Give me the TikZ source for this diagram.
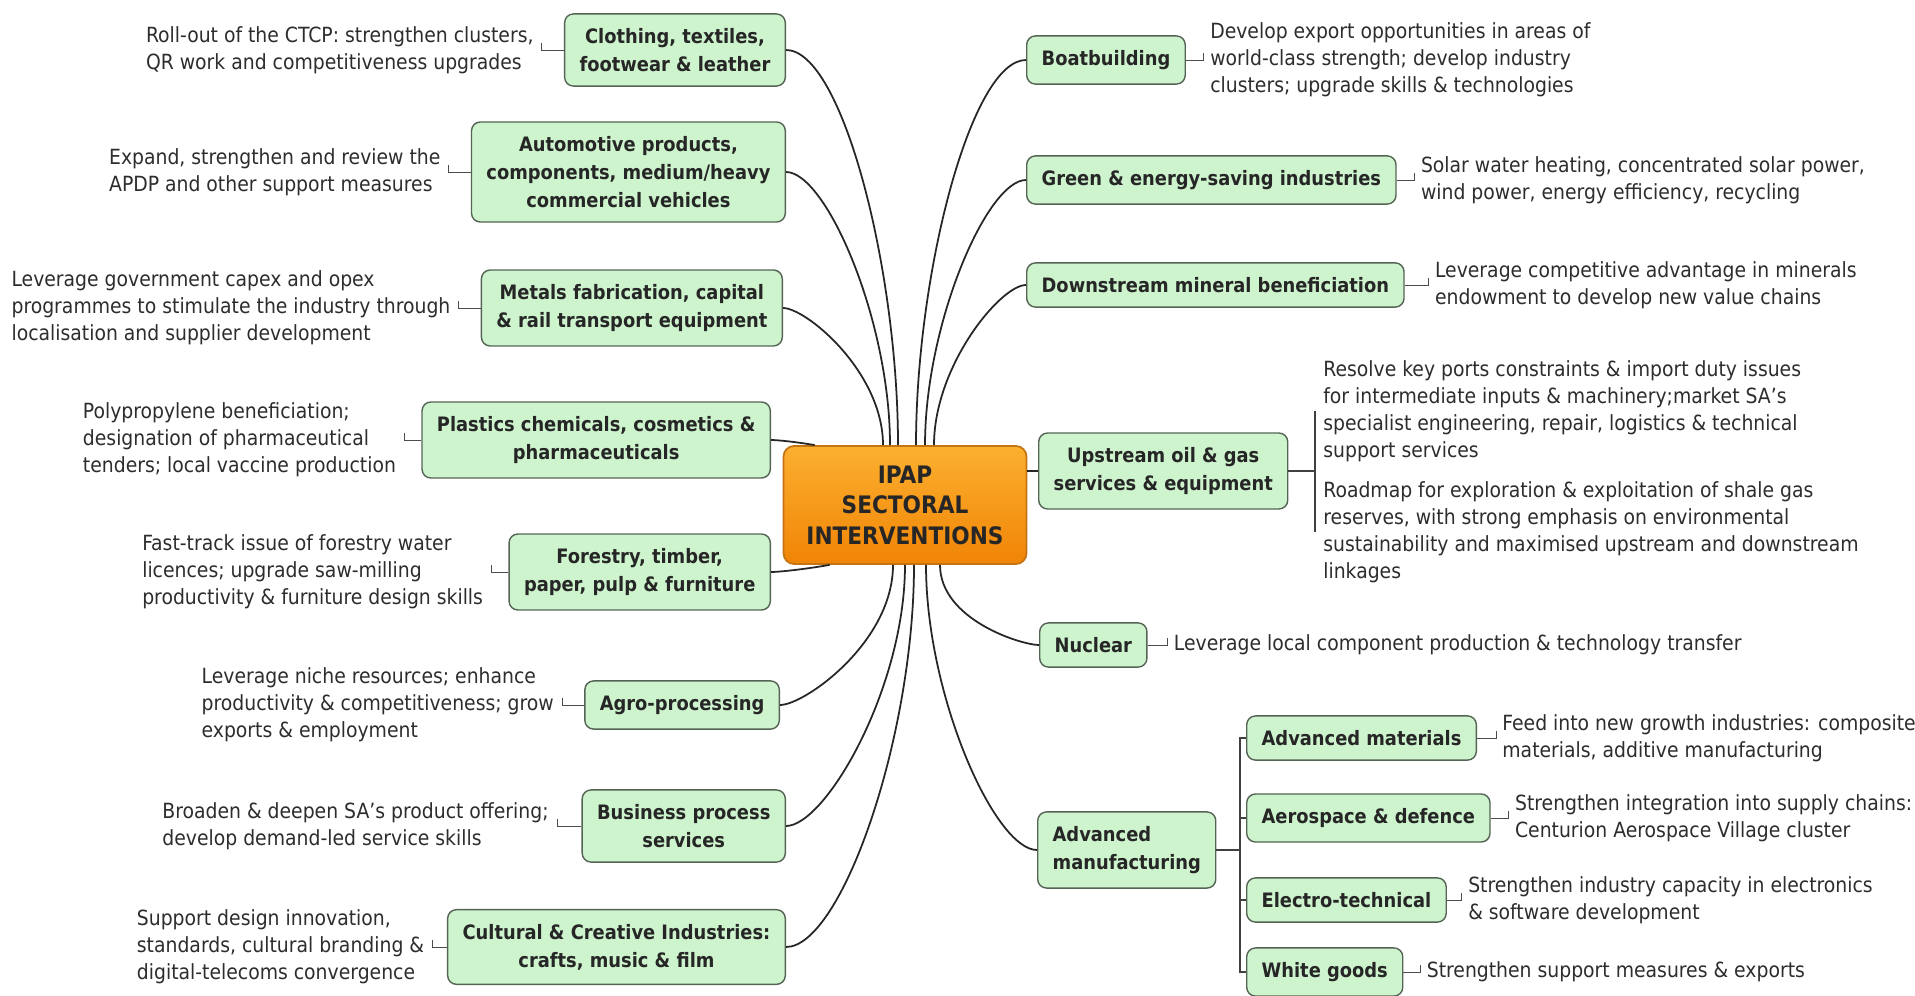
\documentclass[tikz,border=0pt]{standalone}
\usepackage{fontspec}
\setmainfont{DejaVu Sans Condensed}
\usetikzlibrary{positioning,calc}

\definecolor{leafgreen}{RGB}{206,244,206}
\definecolor{leafedge}{RGB}{85,100,85}
\definecolor{hubtop}{RGB}{252,176,48}
\definecolor{hubbot}{RGB}{240,132,6}
\definecolor{hubedge}{RGB}{196,116,18}
\definecolor{notegray}{RGB}{45,45,45}

\begin{document}
\begin{tikzpicture}[x=0.02cm, y=-0.02cm,
    sector/.style={rectangle, rounded corners=5pt, draw=leafedge, line width=0.8pt, fill=leafgreen, align=center, font=\fontsize{11.3}{15.9}\selectfont\bfseries, inner xsep=8.5pt, inner ysep=8.2pt, text=black!85},
    hub/.style={rectangle, rounded corners=6pt, draw=hubedge, line width=1pt, top color=hubtop, bottom color=hubbot, minimum width=4.86cm, minimum height=2.36cm, align=center, font=\fontsize{13.7}{17.4}\selectfont\bfseries, text=black!85},
    note/.style={align=left, font=\fontsize{11.9}{15.3}\selectfont, text=notegray, inner sep=0pt},
    branch/.style={line width=1pt, black!85, out looseness=1.1, in looseness=0.35},
    tick/.style={line width=0.5pt, black!70},
    bracket/.style={line width=0.7pt, black!75},
]

\useasboundingbox (0,0) rectangle (1915,996);
\fill[white] (0,0) rectangle (1915,996);

% Nodo centrale
\node[hub] (hub) at (905,505) {IPAP\\SECTORAL\\INTERVENTIONS};

% Settori a sinistra
\node[sector, anchor=east] (cloth) at (786,50) {Clothing, textiles,\\footwear \& leather};
\node[sector, anchor=east] (auto) at (786,172) {Automotive products,\\components, medium/heavy\\commercial vehicles};
\node[sector, anchor=east] (metal) at (783,308) {Metals fabrication, capital\\\& rail transport equipment};
\node[sector, anchor=east] (plast) at (771,440) {Plastics chemicals, cosmetics \&\\pharmaceuticals};
\node[sector, anchor=east] (forest) at (771,572) {Forestry, timber,\\paper, pulp \& furniture};
\node[sector, anchor=east] (agro) at (780,705) {Agro-processing};
\node[sector, anchor=east] (bps) at (786,826) {Business process\\services};
\node[sector, anchor=east] (culture) at (786,947) {Cultural \& Creative Industries:\\crafts, music \& film};

% Settori a destra
\node[sector, anchor=west] (boat) at (1026,60) {Boatbuilding};
\node[sector, anchor=west] (green) at (1026,180) {Green \& energy-saving industries};
\node[sector, anchor=west] (mineral) at (1026,285) {Downstream mineral beneficiation};
\node[sector, anchor=west] (oilgas) at (1038,471) {Upstream oil \& gas\\services \& equipment};
\node[sector, anchor=west] (nuclear) at (1039,645) {Nuclear};
\node[sector, anchor=west, align=left] (advman) at (1037,850) {Advanced\\manufacturing};
\node[sector, anchor=west] (advmat) at (1246,738) {Advanced materials};
\node[sector, anchor=west] (aero) at (1246,818) {Aerospace \& defence};
\node[sector, anchor=west] (electro) at (1246,900) {Electro-technical};
\node[sector, anchor=west] (white) at (1246,972) {White goods};

% Note a sinistra
\node[note, left=0.6cm of cloth] (ncloth)
    {Roll-out of the CTCP: strengthen clusters,\\QR work and competitiveness upgrades};
\node[note, left=0.6cm of auto] (nauto)
    {Expand, strengthen and review the\\APDP and other support measures};
\node[note, left=0.6cm of metal] (nmetal)
    {Leverage government capex and opex\\programmes to stimulate the industry through\\localisation and supplier development};
\node[note, left=0.5cm of plast] (nplast)
    {Polypropylene beneficiation;\\designation of pharmaceutical\\tenders; local vaccine production};
\node[note, left=0.5cm of forest] (nforest)
    {Fast-track issue of forestry water\\licences; upgrade saw-milling\\productivity \& furniture design skills};
\node[note, left=0.6cm of agro] (nagro)
    {Leverage niche resources; enhance\\productivity \& competitiveness; grow\\exports \& employment};
\node[note, left=0.65cm of bps] (nbps)
    {Broaden \& deepen SA's product offering;\\develop demand-led service skills};
\node[note, left=0.45cm of culture] (nculture)
    {Support design innovation,\\standards, cultural branding \&\\digital-telecoms convergence};

% Note a destra
\node[note, right=0.48cm of boat] (nboat)
    {Develop export opportunities in areas of\\world-class strength; develop industry\\clusters; upgrade skills \& technologies};
\node[note, right=0.48cm of green] (ngreen)
    {Solar water heating, concentrated solar power,\\wind power, energy efficiency, recycling};
\node[note, right=0.6cm of mineral] (nmineral)
    {Leverage competitive advantage in minerals\\endowment to develop new value chains};
\node[note, anchor=west] (noil1) at (1323,411)
    {Resolve key ports constraints \& import duty issues\\for intermediate inputs \& machinery;market SA's\\specialist engineering, repair, logistics \& technical\\support services};
\node[note, anchor=west] (noil2) at (1323,532)
    {Roadmap for exploration \& exploitation of shale gas\\reserves, with strong emphasis on environmental\\sustainability and maximised upstream and downstream\\linkages};
\node[note, right=0.52cm of nuclear] (nnuclear)
    {Leverage local component production \& technology transfer};
\node[note, right=0.5cm of advmat] (nadvmat)
    {Feed into new growth industries: composite\\materials, additive manufacturing};
\node[note, right=0.48cm of aero] (naero)
    {Strengthen integration into supply chains:\\Centurion Aerospace Village cluster};
\node[note, right=0.42cm of electro] (nelectro)
    {Strengthen industry capacity in electronics\\\& software development};
\node[note, right=0.46cm of white] (nwhite)
    {Strengthen support measures \& exports};

% Rami dal centro
\draw[branch] ($(hub.north)+(-7,0)$) to[out=90,in=0] (cloth.east);
\draw[branch] ($(hub.north)+(-15,0)$) to[out=90,in=0] (auto.east);
\draw[branch] ($(hub.north)+(-22,0)$) to[out=90,in=0] (metal.east);
\draw[branch] ($(hub.north west)+(32,0)$) to[out=170,in=0] (plast.east);
\draw[branch] ($(hub.south west)+(47,0)$) to[out=-170,in=0] (forest.east);
\draw[branch] ($(hub.south)+(-12,0)$) to[out=-90,in=0] (agro.east);
\draw[branch] (hub.south) to[out=-90,in=0] (bps.east);
\draw[branch] ($(hub.south)+(9,0)$) to[out=-90,in=0] (culture.east);
\draw[branch] ($(hub.north)+(11,0)$) to[out=90,in=180] (boat.west);
\draw[branch] ($(hub.north)+(20,0)$) to[out=90,in=180] (green.west);
\draw[branch] ($(hub.north)+(29,0)$) to[out=90,in=180] (mineral.west);
\draw[branch] (oilgas.west -| hub.east) -- (oilgas.west);
\draw[branch] ($(hub.south)+(35,0)$) to[out=-90,in=180] (nuclear.west);
\draw[branch] ($(hub.south)+(21,0)$) to[out=-90,in=180] (advman.west);

% Sottorami
\coordinate (oilbr) at (1315,471);
\draw[bracket] (oilgas.east) -- (oilbr);
\draw[bracket] (noil1.west -| oilbr) -- (noil2.west -| oilbr);
\coordinate (advbr) at (1240,850);
\draw[bracket] (advman.east) -- (advbr);
\draw[bracket] (advmat.west) -| (advbr);
\draw[bracket] (aero.west) -| (advbr);
\draw[bracket] (electro.west) -| (advbr);
\draw[bracket] (white.west) -| (advbr);

% Collegamenti alle note
\draw[tick] (cloth.west) -- ($(ncloth.east)+(8,0)$) -- ++(0,-7);
\draw[tick] (auto.west) -- ($(nauto.east)+(8,0)$) -- ++(0,-7);
\draw[tick] (metal.west) -- ($(nmetal.east)+(8,0)$) -- ++(0,-7);
\draw[tick] (plast.west) -- ($(nplast.east)+(8,0)$) -- ++(0,-7);
\draw[tick] (forest.west) -- ($(nforest.east)+(8,0)$) -- ++(0,-7);
\draw[tick] (agro.west) -- ($(nagro.east)+(8,0)$) -- ++(0,-7);
\draw[tick] (bps.west) -- ($(nbps.east)+(8,0)$) -- ++(0,-7);
\draw[tick] (culture.west) -- ($(nculture.east)+(8,0)$) -- ++(0,-7);
\draw[tick] (boat.east) -- ($(nboat.west)+(-6,0)$) -- ++(0,-7);
\draw[tick] (green.east) -- ($(ngreen.west)+(-6,0)$) -- ++(0,-7);
\draw[tick] (mineral.east) -- ($(nmineral.west)+(-6,0)$) -- ++(0,-7);
\draw[tick] (nuclear.east) -- ($(nnuclear.west)+(-6,0)$) -- ++(0,-7);
\draw[tick] (advmat.east) -- ($(nadvmat.west)+(-6,0)$) -- ++(0,-7);
\draw[tick] (aero.east) -- ($(naero.west)+(-6,0)$) -- ++(0,-7);
\draw[tick] (electro.east) -- ($(nelectro.west)+(-6,0)$) -- ++(0,-7);
\draw[tick] (white.east) -- ($(nwhite.west)+(-6,0)$) -- ++(0,-7);

\end{tikzpicture}
\end{document}
